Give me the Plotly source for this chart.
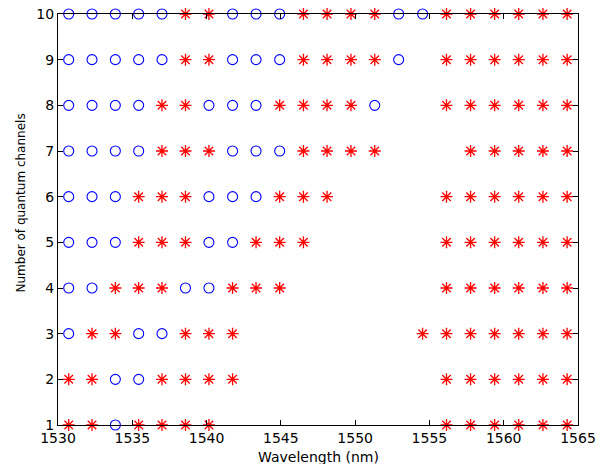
import plotly.graph_objects as go

wavelengths = [1530.72, 1532.29, 1533.86, 1535.43, 1537.00, 1538.58, 1540.16, 1541.75,
               1543.33, 1544.92, 1546.52, 1548.11, 1549.72, 1551.32, 1552.93, 1554.54,
               1556.15, 1557.77, 1559.39, 1561.01, 1562.64, 1564.27]
channels = [1, 2, 3, 4, 5, 6, 7, 8, 9, 10]
# 'O' = success (blue circle), '*' = failure (red asterisk), '.' = not tested
row_status = {
    10: "OOOOO**OOO****OO******",
    9:  "OOOOO**OOO****O.******",
    8:  "OOOO**OOO****O..******",
    7:  "OOOO***OOO****...*****",
    6:  "OOO***OOO***....******",
    5:  "OOO***OO***.....******",
    4:  "OO***OO***......******",
    3:  "O**OO***.......*******",
    2:  "**OO****........******",
    1:  "**O****.........******",
}
x_ticks = [1530, 1535, 1540, 1545, 1550, 1555, 1560, 1565]

ox, oy, sx, sy = [], [], [], []
for n in channels:
    for w, s in zip(wavelengths, row_status[n]):
        if s == "O":
            ox.append(w); oy.append(n)
        elif s == "*":
            sx.append(w); sy.append(n)

fig = go.Figure()
fig.add_trace(go.Scatter(x=ox, y=oy, mode="markers", cliponaxis=False,
                         marker=dict(symbol="circle-open", size=10, color="#0000ff",
                                     line=dict(width=1.1, color="#0000ff"))))
fig.add_trace(go.Scatter(x=sx, y=sy, mode="markers", cliponaxis=False,
                         marker=dict(symbol="asterisk-open", size=10, color="#ff0000",
                                     line=dict(width=1.3, color="#ff0000"))))

fnt = dict(family="DejaVu Sans", size=14, color="black")
# the page body has an 8px default margin, so the margins below compensate for it
fig.update_layout(
    width=605, height=464, showlegend=False,
    margin=dict(l=50, r=35, t=6, b=47),
    paper_bgcolor="white", plot_bgcolor="white",
    font=fnt,
    xaxis=dict(range=[1530, 1565], tickvals=x_ticks, ticks="inside", ticklen=5,
               tickcolor="black", showline=True, linecolor="black", linewidth=1,
               mirror="ticks", showgrid=False, zeroline=False, tickfont=fnt,
               automargin=False, ticklabeloverflow="allow"),
    yaxis=dict(range=[1, 10], tickvals=channels, ticks="inside", ticklen=5,
               tickcolor="black", showline=True, linecolor="black", linewidth=1,
               mirror="ticks", showgrid=False, zeroline=False, tickfont=fnt,
               automargin=False, ticklabeloverflow="allow"),
    annotations=[
        dict(text="Wavelength (nm)", xref="paper", yref="paper", x=0.5, y=0,
             yshift=-32, yanchor="middle", showarrow=False,
             font=dict(family="DejaVu Sans", size=14, color="black")),
        dict(text="Number of quantum channels", xref="paper", yref="paper", x=0, y=0.5,
             xshift=-38, yshift=16, xanchor="center", textangle=-90, showarrow=False,
             font=dict(family="DejaVu Sans", size=12, color="black")),
    ],
)
fig.write_html("out.html")
